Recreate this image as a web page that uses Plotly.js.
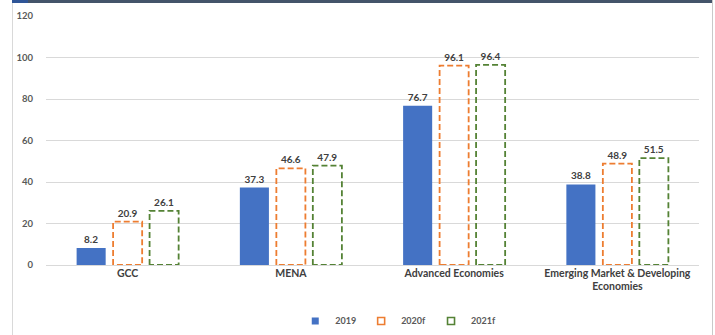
<!DOCTYPE html>
<html>
<head>
<meta charset="utf-8">
<script src="https://cdn.plot.ly/plotly-3.0.1.min.js"></script>
<style>
html,body{margin:0;padding:0;background:#fff;}
#wrap{position:relative;width:715px;height:335px;overflow:hidden;}
#chart{position:absolute;left:0;top:0;width:715px;height:335px;}
.deco{position:absolute;pointer-events:none;}
</style>
</head>
<body>
<div id="wrap">
<div id="chart"></div>
<div class="deco" style="left:12px;top:0;width:700px;height:3px;background:#44546a;"></div>
<div class="deco" style="left:12px;top:0;width:16px;height:3px;background:#2f5597;"></div>
<div class="deco" style="left:12px;top:3px;width:1px;height:332px;background:#d9d9d9;"></div>
<div class="deco" style="left:712px;top:0;width:1px;height:335px;background:#c9c9c9;"></div>
</div>
<script>
const categories = ['GCC', 'MENA', 'Advanced Economies', 'Emerging Market & Developing<br>Economies'];
const seriesNames = ['2019', '2020f', '2021f'];
const v2019 = [8.2, 37.3, 76.7, 38.8];
const v2020f = [20.9, 46.6, 96.1, 48.9];
const v2021f = [26.1, 47.9, 96.4, 51.5];

const colors = ['#4472c4', '#ed7d31', '#548235'];
const FONT = 'Lato, "Open Sans", sans-serif';
const xpos = categories.map((c, i) => i);
const barW = 0.178;
const slot = 0.2235;
const shifts = [-slot, 0, slot];
const allVals = [v2019, v2020f, v2021f];

const traces = [];
allVals.forEach((vals, k) => {
  traces.push({
    type: 'bar',
    x: xpos,
    y: vals,
    width: barW,
    offset: shifts[k] - barW / 2,
    marker: {color: k === 0 ? colors[0] : 'rgba(0,0,0,0)', line: {width: 0}},
    text: vals.map(v => v.toFixed(1)),
    textposition: 'outside',
    cliponaxis: false,
    textfont: {family: FONT, size: 10, color: '#404040', weight: 700},
    showlegend: false,
    hoverinfo: 'skip'
  });
});
[1, 2].forEach(k => {
  const xs = [], ys = [];
  allVals[k].forEach((v, i) => {
    const x0 = xpos[i] + shifts[k] - barW / 2;
    const x1 = xpos[i] + shifts[k] + barW / 2;
    xs.push(x0, x0, x1, x1, x0, null);
    ys.push(0, v, v, 0, 0, null);
  });
  traces.push({
    type: 'scatter', mode: 'lines', x: xs, y: ys,
    line: {color: colors[k], width: 1.8, dash: '6px,3px'},
    showlegend: false, hoverinfo: 'skip', cliponaxis: false
  });
});
seriesNames.forEach((n, k) => {
  traces.push({
    type: 'scatter', mode: 'markers', x: [null], y: [null], name: n,
    marker: k === 0 ? {symbol: 'square', size: 7, color: colors[0]}
                    : {symbol: 'square-open', size: 7, color: colors[k], line: {width: 1.6, color: colors[k]}},
    showlegend: true
  });
});

const layout = {
  width: 715, height: 335,
  margin: {l: 46, r: 16, t: 16, b: 70, autoexpand: false},
  paper_bgcolor: '#ffffff', plot_bgcolor: '#ffffff',
  barmode: 'overlay',
  font: {family: FONT, color: '#595959'},
  showlegend: true,
  legend: {orientation: 'h', xref: 'container', yref: 'container', x: 0.557, xanchor: 'center', y: 0.042, yanchor: 'middle',
           font: {family: FONT, size: 9, color: '#595959', weight: 700}, itemwidth: 30, tracegroupgap: 0},
  xaxis: {
    type: 'linear', range: [-0.5, 3.5], tickvals: xpos, ticktext: categories, automargin: false,
    showgrid: false, zeroline: false, showline: false, ticks: '',
    tickfont: {family: FONT, size: 10.5, color: '#404040', weight: 700}
  },
  yaxis: {
    range: [0, 120], dtick: 20, showgrid: true, gridcolor: '#d9d9d9', gridwidth: 1, automargin: false,
    zeroline: true, zerolinecolor: '#d9d9d9', zerolinewidth: 1, showline: false,
    ticks: 'outside', ticklen: 10, tickcolor: 'rgba(0,0,0,0)',
    tickfont: {family: FONT, size: 9.5, color: '#595959', weight: 700}
  }
};
Plotly.newPlot('chart', traces, layout, {displayModeBar: false, staticPlot: true});
</script>
</body>
</html>
